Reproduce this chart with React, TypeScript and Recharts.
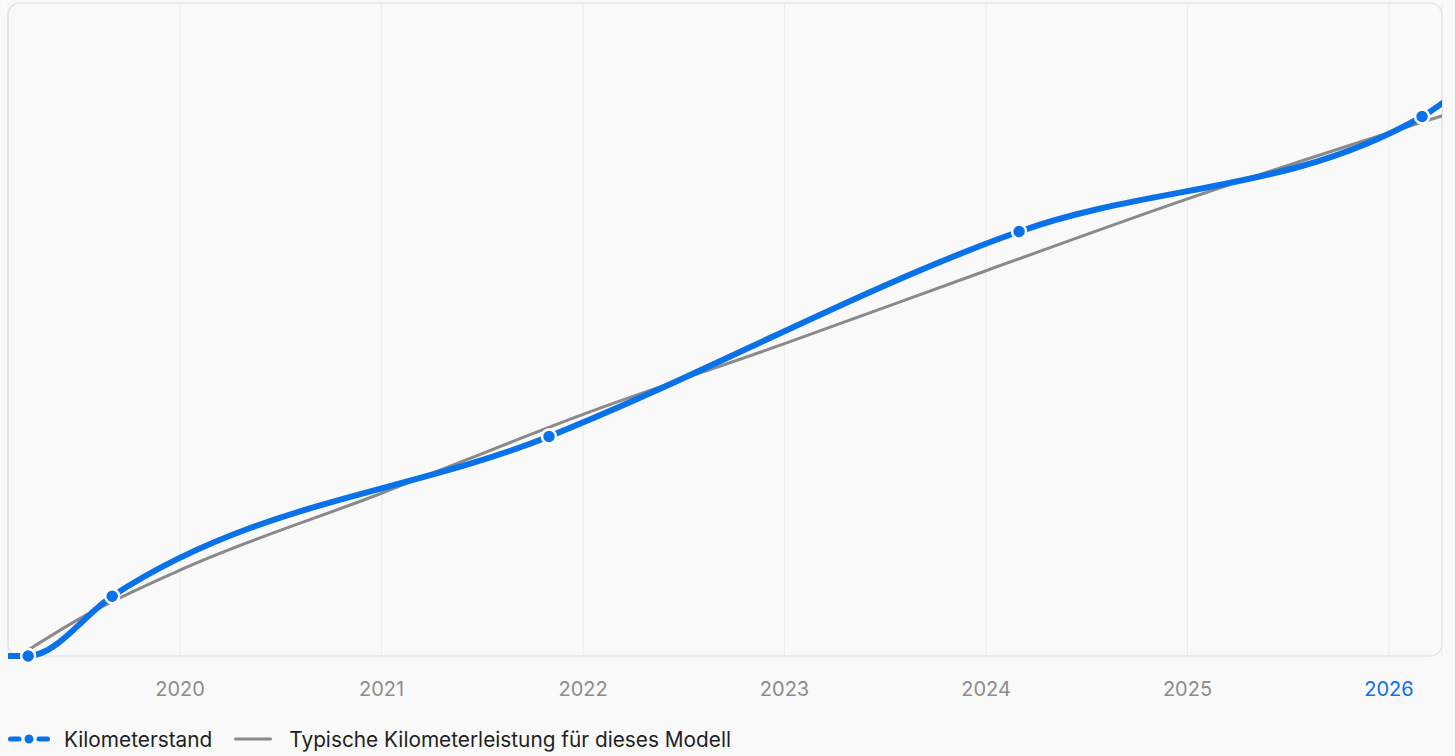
import React from "react";
import { LineChart, Line, XAxis, YAxis, CartesianGrid, ReferenceArea, Legend } from "recharts";

const BLUE = "#0a72e8";
const GRAY = "#8a8a8a";
const FONT = "Inter, 'Noto Sans', sans-serif";

// odometer readings (decimal years); first and last entries sit outside the visible range
const mileageYears = [2019.0, 2019.246, 2019.663, 2021.831, 2024.164, 2026.164, 2026.5];
const mileageKm = [0, 0, 11900, 43700, 84500, 107400, 118000];
const mileageMeasured = [false, true, true, true, true, true, false];

// typical mileage for this model
const typicalYears = [2019.246, 2019.5, 2020, 2021, 2022, 2023, 2024, 2025, 2026.3];
const typicalKm = [1200, 7400, 17100, 32400, 48100, 62200, 76700, 91000, 108000];

const yearTicks = [2020, 2021, 2022, 2023, 2024, 2025, 2026];
const currentYear = 2026;
const xDomain: [number, number] = [2019.146, 2026.263];
const kmDomain: [number, number] = [0, 130000];

const mileageData = mileageYears.map((year, i) => ({ year, km: mileageKm[i], measured: mileageMeasured[i] }));
const typicalData = typicalYears.map((year, i) => ({ year, km: typicalKm[i] }));

const YearTick = ({ x, y, payload }: any) => (
  <text
    x={x}
    y={y}
    dy="0.71em"
    textAnchor="middle"
    fontFamily={FONT}
    fontSize={20}
    fill={payload.value === currentYear ? BLUE : "#8c8c8c"}
  >
    {payload.value}
  </text>
);

const MeasuredDot = (props: any) => {
  const { cx, cy, payload, index } = props;
  if (!payload?.measured) return <g key={`d-${index}`} />;
  return <circle key={`d-${index}`} cx={cx} cy={cy} r={7} fill={BLUE} stroke="#fff" strokeWidth={2.5} />;
};

const ChartLegend = () => (
  <div
    style={{
      display: "flex",
      alignItems: "center",
      height: 34,
      fontFamily: FONT,
      fontSize: 20.8,
      color: "#1f1f1f",
    }}
  >
    <svg width={42} height={14} style={{ marginRight: 14 }}>
      <line x1={2.5} y1={7} x2={11} y2={7} stroke={BLUE} strokeWidth={5} strokeLinecap="round" />
      <line x1={31} y1={7} x2={39.5} y2={7} stroke={BLUE} strokeWidth={5} strokeLinecap="round" />
      <circle cx={21} cy={7} r={5.5} fill={BLUE} stroke="#fff" strokeWidth={2} />
    </svg>
    <span style={{ marginRight: 22 }}>Kilometerstand</span>
    <svg width={38} height={14} style={{ marginRight: 17 }}>
      <line x1={1.5} y1={7} x2={36.5} y2={7} stroke={GRAY} strokeWidth={3} strokeLinecap="round" />
    </svg>
    <span>Typische Kilometerleistung für dieses Modell</span>
  </div>
);

export default function App() {
  return (
    <div style={{ position: "absolute", left: 0, top: 0, width: 1455, height: 756, background: "#f9f9f9" }}>
      <LineChart width={1455} height={756} margin={{ top: 3, right: 13, left: 8, bottom: 0 }}>
        <CartesianGrid horizontal={false} stroke="#ececec" />
        <ReferenceArea
          x1={xDomain[0]}
          x2={xDomain[1]}
          y1={kmDomain[0]}
          y2={kmDomain[1]}
          fill="none"
          stroke="#e4e4e4"
          strokeWidth={1.5}
          radius={12}
        />
        <XAxis
          dataKey="year"
          type="number"
          domain={xDomain}
          allowDataOverflow
          ticks={yearTicks}
          axisLine={false}
          tickLine={false}
          tickMargin={20}
          height={66}
          tick={<YearTick />}
        />
        <YAxis type="number" dataKey="km" domain={kmDomain} hide />
        <Legend verticalAlign="bottom" align="left" content={<ChartLegend />} />
        <Line
          data={typicalData}
          dataKey="km"
          type="monotone"
          stroke={GRAY}
          strokeWidth={3}
          dot={false}
          activeDot={false}
          isAnimationActive={false}
        />
        <Line
          data={mileageData}
          dataKey="km"
          type="monotone"
          stroke={BLUE}
          strokeWidth={6}
          dot={<MeasuredDot />}
          activeDot={false}
          isAnimationActive={false}
        />
      </LineChart>
    </div>
  );
}
